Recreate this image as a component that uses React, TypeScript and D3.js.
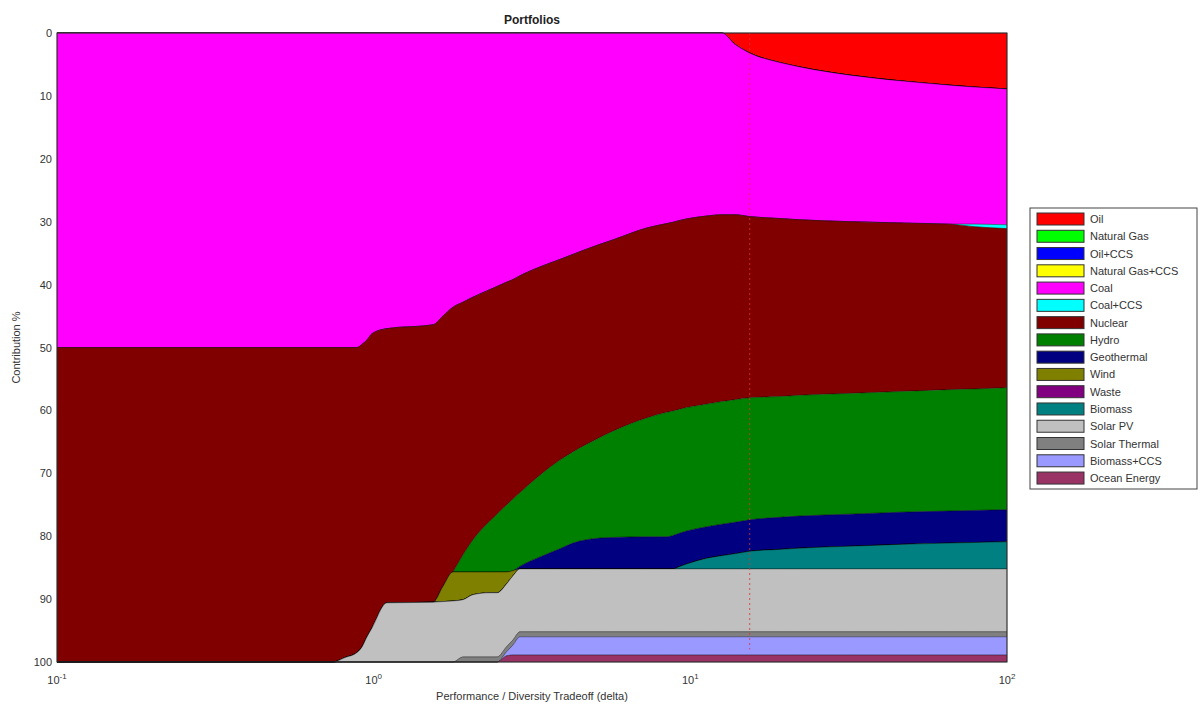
import React from 'react';
import * as d3 from 'd3';

// ---------- data ----------
const SERIES = [
  'Oil', 'Natural Gas', 'Oil+CCS', 'Natural Gas+CCS', 'Coal', 'Coal+CCS', 'Nuclear', 'Hydro',
  'Geothermal', 'Wind', 'Waste', 'Biomass', 'Solar PV', 'Solar Thermal', 'Biomass+CCS', 'Ocean Energy',
];
const COLORS = [
  '#ff0000', '#00ff00', '#0000ff', '#ffff00', '#ff00ff', '#00ffff', '#800000', '#008000',
  '#000080', '#808000', '#800080', '#008080', '#c0c0c0', '#808080', '#9999ff', '#993366',
];

const DELTA = [0.1, 0.744, 0.812, 0.886, 0.919, 0.953, 0.988, 1.102, 1.539, 1.655, 1.78, 1.914, 2.058, 2.329, 2.452, 2.636, 2.754, 2.897, 3.35, 3.876, 4.259, 5.184, 5.696, 7.295, 8.436, 8.813, 9.273, 11.28, 12.58, 13.83, 15.43, 19.18, 22.19, 31.92, 45.89, 66.03, 79.18, 100];

const OIL = [0, 0, 0, 0, 0, 0, 0, 0, 0, 0, 0, 0, 0, 0, 0, 0, 0, 0, 0, 0, 0, 0, 0, 0, 0, 0, 0, 0, 0, 1.8, 3.2, 4.7, 5.4, 6.7, 7.6, 8.3, 8.6, 8.9];
const NATURAL_GAS = [0, 0, 0, 0, 0, 0, 0, 0, 0, 0, 0, 0, 0, 0, 0, 0, 0, 0, 0, 0, 0, 0, 0, 0, 0, 0, 0, 0, 0, 0, 0, 0, 0, 0, 0, 0, 0, 0];
const OIL_CCS = [0, 0, 0, 0, 0, 0, 0, 0, 0, 0, 0, 0, 0, 0, 0, 0, 0, 0, 0, 0, 0, 0, 0, 0, 0, 0, 0, 0, 0, 0, 0, 0, 0, 0, 0, 0, 0, 0];
const NATURAL_GAS_CCS = [0, 0, 0, 0, 0, 0, 0, 0, 0, 0, 0, 0, 0, 0, 0, 0, 0, 0, 0, 0, 0, 0, 0, 0, 0, 0, 0, 0, 0, 0, 0, 0, 0, 0, 0, 0, 0, 0];
const COAL = [50, 50, 50, 50, 49.5, 48.8, 47.8, 47.0, 46.4, 45.0, 43.6, 42.8, 42.0, 40.8, 40.3, 39.6, 39.2, 38.6, 37.2, 36.0, 35.2, 33.6, 32.9, 31.0, 30.3, 30.1, 29.8, 29.1, 28.9, 27.1, 26.0, 24.8, 24.3, 23.3, 22.6, 22.1, 21.8, 21.6];
const COAL_CCS = [0, 0, 0, 0, 0, 0, 0, 0, 0, 0, 0, 0, 0, 0, 0, 0, 0, 0, 0, 0, 0, 0, 0, 0, 0, 0, 0, 0, 0, 0, 0, 0, 0, 0, 0, 0, 0.4, 0.6];
const NUCLEAR = [50, 50, 49.3, 48.5, 48.1, 47.2, 46.8, 43.6, 44.1, 43.0, 42.1, 40.2, 38.6, 36.8, 36.2, 35.4, 34.9, 34.5, 33.1, 31.9, 31.4, 30.7, 30.4, 30.2, 30.0, 30.0, 30.0, 29.9, 29.7, 29.4, 28.8, 28.3, 27.9, 27.3, 26.8, 26.3, 25.8, 25.3];
const HYDRO = [0, 0, 0, 0, 0, 0, 0, 0, 0, 0, 0, 2.7, 5.1, 8.1, 9.2, 10.7, 11.4, 11.7, 13.0, 14.1, 14.5, 16.0, 16.9, 18.9, 19.8, 19.8, 19.7, 19.5, 19.5, 19.5, 19.4, 19.2, 19.2, 19.2, 19.2, 19.3, 19.3, 19.4];
const GEOTHERMAL = [0, 0, 0, 0, 0, 0, 0, 0, 0, 0, 0, 0, 0, 0, 0, 0, 0, 0.4, 1.9, 3.2, 4.1, 4.9, 5.0, 5.1, 5.1, 5.3, 5.3, 5.0, 5.0, 5.0, 5.0, 5.1, 5.1, 5.1, 5.1, 5.1, 5.1, 5.1];
const WIND = [0, 0, 0, 0, 0, 0, 0, 0, 0, 2.4, 4.6, 4.4, 3.6, 3.3, 3.3, 1.8, 0.8, 0, 0, 0, 0, 0, 0, 0, 0, 0, 0, 0, 0, 0, 0, 0, 0, 0, 0, 0, 0, 0];
const WASTE = [0, 0, 0, 0, 0, 0, 0, 0, 0, 0, 0, 0, 0, 0, 0, 0, 0, 0, 0, 0, 0, 0, 0, 0, 0, 0, 0, 0, 0, 0, 0, 0, 0, 0, 0, 0, 0, 0];
const BIOMASS = [0, 0, 0, 0, 0, 0, 0, 0, 0, 0, 0, 0, 0, 0, 0, 0, 0, 0, 0, 0, 0, 0, 0, 0, 0, 0, 0.4, 1.7, 2.1, 2.4, 2.8, 3.1, 3.3, 3.6, 3.9, 4.1, 4.2, 4.3];
const SOLAR_PV = [0, 0, 0.7, 1.5, 2.4, 4.0, 5.4, 9.4, 9.5, 9.6, 9.7, 9.1, 9.9, 10.2, 10.2, 10.0, 10.2, 10.0, 10.0, 10.0, 10.0, 10.0, 10.0, 10.0, 10.0, 10.0, 10.0, 10.0, 10.0, 10.0, 10.0, 10.0, 10.0, 10.0, 10.0, 10.0, 10.0, 10.0];
const SOLAR_THERMAL = [0, 0, 0, 0, 0, 0, 0, 0, 0, 0, 0, 0.8, 0.8, 0.8, 0.8, 0.8, 0.8, 0.8, 0.8, 0.8, 0.8, 0.8, 0.8, 0.8, 0.8, 0.8, 0.8, 0.8, 0.8, 0.8, 0.8, 0.8, 0.8, 0.8, 0.8, 0.8, 0.8, 0.8];
const BIOMASS_CCS = [0, 0, 0, 0, 0, 0, 0, 0, 0, 0, 0, 0, 0, 0, 0, 0.7, 1.6, 2.9, 2.9, 2.9, 2.9, 2.9, 2.9, 2.9, 2.9, 2.9, 2.9, 2.9, 2.9, 2.9, 2.9, 2.9, 2.9, 2.9, 2.9, 2.9, 2.9, 2.9];
const OCEAN_ENERGY = [0, 0, 0, 0, 0, 0, 0, 0, 0, 0, 0, 0, 0, 0, 0, 1.0, 1.1, 1.1, 1.1, 1.1, 1.1, 1.1, 1.1, 1.1, 1.1, 1.1, 1.1, 1.1, 1.1, 1.1, 1.1, 1.1, 1.1, 1.1, 1.1, 1.1, 1.1, 1.1];

const VALUES = [OIL, NATURAL_GAS, OIL_CCS, NATURAL_GAS_CCS, COAL, COAL_CCS, NUCLEAR, HYDRO, GEOTHERMAL, WIND, WASTE, BIOMASS, SOLAR_PV, SOLAR_THERMAL, BIOMASS_CCS, OCEAN_ENERGY];

const Y_TICKS = [0, 10, 20, 30, 40, 50, 60, 70, 80, 90, 100];
const X_TICKS = [0.1, 1, 10, 100];
const X_TICK_EXP = ['-1', '0', '1', '2'];
const MARKER_DELTA = 15.4;

const FONT = '"Liberation Sans", Arial, sans-serif';

export default function App() {
  const W = 1201, H = 706;
  const L = 57, R = 1007, T = 33, B = 662;
  const x = d3.scaleLog().domain([0.1, 100]).range([L, R]);
  const y = d3.scaleLinear().domain([0, 100]).range([T, B]);

  const table = DELTA.map((d, i) => {
    const row: any = { delta: d };
    SERIES.forEach((s, k) => { row[s] = VALUES[k][i]; });
    return row;
  });
  const stacked = d3.stack<any>().keys(SERIES)(table);
  const area = d3.area<any>()
    .curve(d3.curveMonotoneX)
    .x((d: any) => x(d.data.delta))
    .y0((d: any) => y(d[0]))
    .y1((d: any) => y(d[1]));

  const legX = 1030, legY = 208, legW = 167, legH = 281;
  const step = 17.27;

  return (
    <svg width={W} height={H} style={{ position: 'absolute', left: 0, top: 0, background: '#fff' }}
      fontFamily={FONT}>
      <rect x={0} y={0} width={W} height={H} fill="#fff" />
      <text x={532} y={24} textAnchor="middle" fontSize={12} fontWeight="bold" fill="#222">Portfolios</text>
      <g>
        {stacked.map((s, k) => (
          <path key={SERIES[k]} d={area(s as any) || ''} fill={COLORS[k]}
            stroke="#000" strokeWidth={0.6} strokeOpacity={0.55} />
        ))}
      </g>
      <line x1={x(MARKER_DELTA)} x2={x(MARKER_DELTA)} y1={y(0)} y2={y(98)}
        stroke="#e03030" strokeWidth={1} strokeDasharray="2,3" strokeOpacity={0.8} />
      <rect x={L} y={T} width={R - L} height={B - T} fill="none" stroke="#333" strokeWidth={1} />
      {Y_TICKS.map(t => (
        <text key={t} x={L - 5} y={y(t) + 4} textAnchor="end" fontSize={11} fill="#333">{t}</text>
      ))}
      {X_TICKS.map((t, i) => (
        <text key={t} x={x(t)} y={684} textAnchor="middle" fontSize={11} fill="#333">
          10<tspan dy={-5} fontSize={8}>{X_TICK_EXP[i]}</tspan>
        </text>
      ))}
      <text x={532} y={700} textAnchor="middle" fontSize={11} fill="#333">Performance / Diversity Tradeoff (delta)</text>
      <text transform={`translate(20,${(T + B) / 2}) rotate(-90)`} textAnchor="middle" fontSize={11} fill="#333">Contribution %</text>
      <g>
        <rect x={legX} y={legY} width={legW} height={legH} fill="#fff" stroke="#444" strokeWidth={1} />
        {SERIES.map((s, k) => {
          const cy = legY + 11 + k * step;
          return (
            <g key={s}>
              <rect x={legX + 7} y={cy - 6} width={47} height={12} fill={COLORS[k]} stroke="#333" strokeWidth={1} />
              <text x={legX + 60} y={cy + 4} fontSize={11} fill="#333">{s}</text>
            </g>
          );
        })}
      </g>
    </svg>
  );
}
